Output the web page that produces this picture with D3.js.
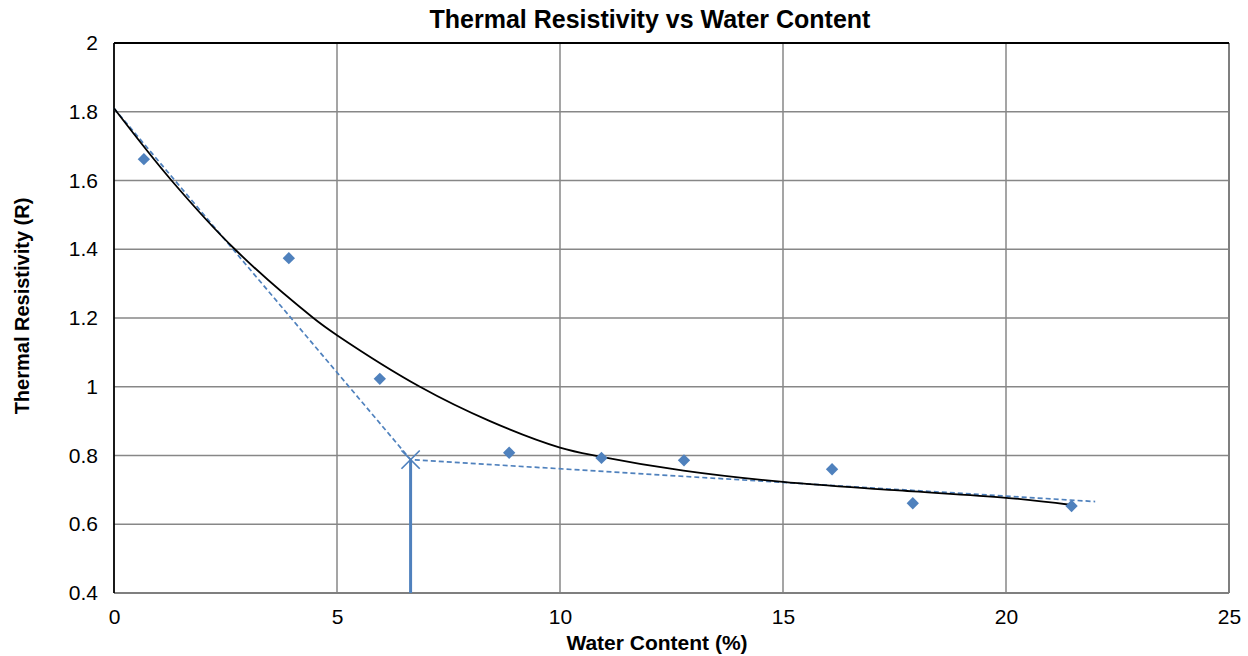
<!DOCTYPE html>
<html>
<head>
<meta charset="utf-8">
<script src="https://cdn.jsdelivr.net/npm/d3@7"></script>
<style>
  html, body { margin: 0; padding: 0; background: #fff; }
  svg { display: block; font-family: Arial, "Liberation Sans", sans-serif; }
</style>
</head>
<body>
<svg id="chart" width="1248" height="656"></svg>
<script>
// Measured samples: water content (%) and thermal resistivity (R)
const waterContent = [0.67, 3.92, 5.96, 8.86, 10.93, 12.78, 16.1, 17.91, 21.47];
const resistivity  = [1.662, 1.374, 1.023, 0.808, 0.793, 0.786, 0.760, 0.661, 0.653];

// Fitted trend curve (sampled)
const trendX = [0, 1.29, 2.71, 4.47, 5.0, 6.86, 8.43, 10.0, 10.9, 12.77, 15.0, 17.5, 20.0, 21.47];
const trendY = [1.81, 1.60, 1.40, 1.20, 1.15, 1.0, 0.900, 0.823, 0.797, 0.756, 0.723, 0.699, 0.677, 0.656];

// Two-segment (bilinear) construction and its break point
const bilinearX = [0, 6.65, 22.0];
const bilinearY = [1.81, 0.788, 0.666];
const breakX = 6.65;
const breakY = 0.788;

// Axis ticks
const xTicks = [0, 5, 10, 15, 20, 25];
const yTicks = [0.4, 0.6, 0.8, 1, 1.2, 1.4, 1.6, 1.8, 2];

const svg = d3.select("#chart");
const m = { left: 114, right: 1229, top: 43, bottom: 593 };

const x = d3.scaleLinear().domain([0, 25]).range([m.left, m.right]);
const y = d3.scaleLinear().domain([0.4, 2]).range([m.bottom, m.top]);

const blue = "#4f81bd";
const grid = "#878787";
const font = "Arial, 'Liberation Sans', sans-serif";

// Gridlines
svg.append("g").selectAll("line").data(xTicks.slice(1, -1)).join("line")
  .attr("x1", d => x(d)).attr("x2", d => x(d))
  .attr("y1", m.top).attr("y2", m.bottom)
  .attr("stroke", grid).attr("stroke-width", 1.5);
svg.append("g").selectAll("line").data(yTicks.slice(1, -1)).join("line")
  .attr("x1", m.left).attr("x2", m.right)
  .attr("y1", d => y(d)).attr("y2", d => y(d))
  .attr("stroke", grid).attr("stroke-width", 1.5);

// Plot frame
svg.append("line").attr("x1", m.left).attr("x2", m.right).attr("y1", m.bottom).attr("y2", m.bottom)
  .attr("stroke", "#7f7f7f").attr("stroke-width", 2);
svg.append("line").attr("x1", m.right).attr("x2", m.right).attr("y1", m.top).attr("y2", m.bottom)
  .attr("stroke", "#7f7f7f").attr("stroke-width", 2);
svg.append("line").attr("x1", m.left).attr("x2", m.right).attr("y1", m.top).attr("y2", m.top)
  .attr("stroke", "#000").attr("stroke-width", 1.8);
svg.append("line").attr("x1", m.left).attr("x2", m.left).attr("y1", m.top).attr("y2", m.bottom)
  .attr("stroke", "#000").attr("stroke-width", 1.8);

// Axes (labels only)
const xAxis = d3.axisBottom(x).tickValues(xTicks).tickSize(0).tickPadding(16).tickFormat(d3.format("d"));
const gx = svg.append("g").attr("transform", `translate(0,${m.bottom})`).call(xAxis);
gx.select(".domain").remove();
gx.selectAll("text").attr("font-size", 21).attr("fill", "#000").attr("font-family", font);

const yAxis = d3.axisLeft(y).tickValues(yTicks).tickSize(0).tickPadding(16).tickFormat(d => String(d));
const gy = svg.append("g").attr("transform", `translate(${m.left},0)`).call(yAxis);
gy.select(".domain").remove();
gy.selectAll("text").attr("font-size", 21).attr("fill", "#000").attr("font-family", font);

// Bilinear dashed construction
const line = d3.line().x(d => x(d[0])).y(d => y(d[1]));
svg.append("path")
  .datum(bilinearX.map((v, i) => [v, bilinearY[i]]))
  .attr("d", line)
  .attr("fill", "none").attr("stroke", blue).attr("stroke-width", 1.7)
  .attr("stroke-dasharray", "5,3");

// Trend curve
svg.append("path")
  .datum(trendX.map((v, i) => [v, trendY[i]]))
  .attr("d", d3.line().x(d => x(d[0])).y(d => y(d[1])).curve(d3.curveCatmullRom.alpha(0.5)))
  .attr("fill", "none").attr("stroke", "#000").attr("stroke-width", 1.8);

// Data markers (diamonds)
svg.append("g").selectAll("path")
  .data(waterContent.map((v, i) => [v, resistivity[i]]))
  .join("path")
  .attr("d", d3.symbol().type(d3.symbolSquare).size(76))
  .attr("transform", d => `translate(${x(d[0])},${y(d[1])}) rotate(45)`)
  .attr("fill", blue);

// Break point: vertical drop line and cross marker
svg.append("line")
  .attr("x1", x(breakX)).attr("x2", x(breakX))
  .attr("y1", y(breakY)).attr("y2", y(0.4))
  .attr("stroke", blue).attr("stroke-width", 3);
svg.append("path")
  .attr("d", d3.symbol().type(d3.symbolTimes).size(220))
  .attr("transform", `translate(${x(breakX)},${y(breakY)})`)
  .attr("fill", "none").attr("stroke", blue).attr("stroke-width", 1.7);

// Titles
svg.append("text").attr("x", 650).attr("y", 28).attr("text-anchor", "middle")
  .attr("font-family", font).attr("font-size", 25).attr("font-weight", "bold")
  .text("Thermal Resistivity vs Water Content");
svg.append("text").attr("x", 657).attr("y", 650).attr("text-anchor", "middle")
  .attr("font-family", font).attr("font-size", 21).attr("font-weight", "bold")
  .text("Water Content (%)");
svg.append("text").attr("transform", "translate(29,306) rotate(-90)").attr("text-anchor", "middle")
  .attr("font-family", font).attr("font-size", 20).attr("font-weight", "bold")
  .text("Thermal Resistivity (R)");
</script>
</body>
</html>
